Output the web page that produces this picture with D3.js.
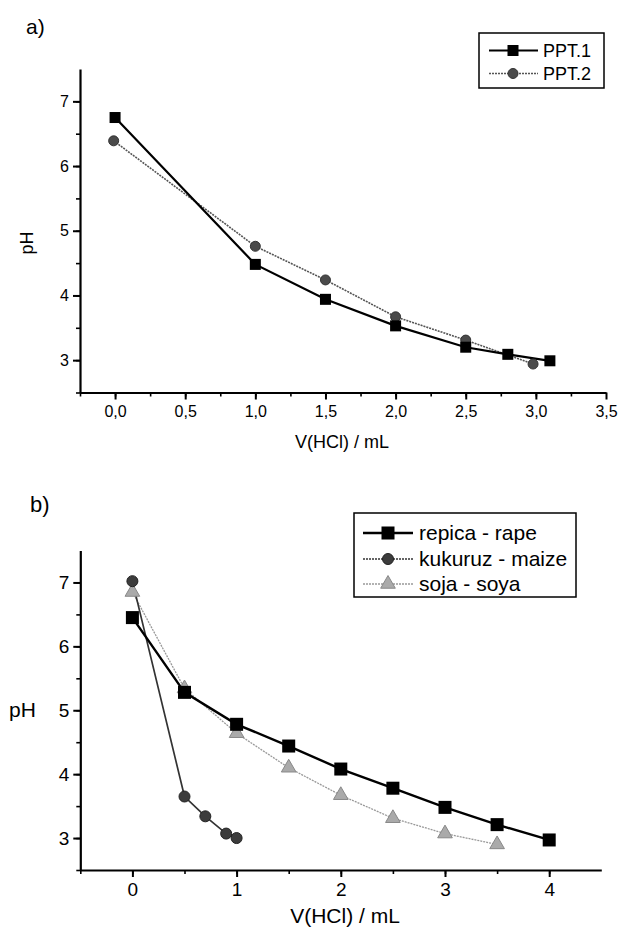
<!DOCTYPE html>
<html>
<head>
<meta charset="utf-8">
<script src="https://d3js.org/d3.v7.min.js"></script>
<style>
  body { margin: 0; background: #fff; }
  svg { display: block; font-family: Arial, "Liberation Sans", Helvetica, sans-serif; }
  .axis path, .axis line { stroke: #000; }
</style>
</head>
<body>
<svg id="chart" width="618" height="928"></svg>
<script>
// panel a data
var volA1 = [0.0, 1.0, 1.5, 2.0, 2.5, 2.8, 3.1];
var ppt1 = [6.75, 4.48, 3.94, 3.53, 3.2, 3.09, 2.99];
var volA2 = [-0.01, 1.0, 1.5, 2.0, 2.5, 2.98];
var ppt2 = [6.39, 4.76, 4.24, 3.67, 3.31, 2.94];
var ticksA_x = [0, 0.5, 1, 1.5, 2, 2.5, 3, 3.5];
var ticksA_y = [3, 4, 5, 6, 7];

// panel b data
var volRape = [0, 0.5, 1, 1.5, 2, 2.5, 3, 3.5, 4];
var rape = [6.45, 5.28, 4.78, 4.44, 4.08, 3.78, 3.48, 3.21, 2.97];
var volMaize = [0, 0.5, 0.7, 0.9, 1.0];
var maize = [7.02, 3.65, 3.34, 3.07, 3.0];
var volSoya = [0, 0.5, 1, 1.5, 2, 2.5, 3, 3.5];
var soya = [6.85, 5.34, 4.64, 4.1, 3.67, 3.31, 3.07, 2.9];
var ticksB_x = [0, 1, 2, 3, 4];
var ticksB_y = [3, 4, 5, 6, 7];

var svg = d3.select("#chart");

function zip(xs, ys) { return xs.map(function(v, i) { return [v, ys[i]]; }); }

// draws the two axes with major + minor ticks
function drawAxes(x, y, xTicks, xMinor, yTicks, yMinor, fmt, fsize) {
  var x0 = x.range()[0], y0 = y.range()[0];
  var g = svg.append("g");
  g.append("g").attr("class", "axis").attr("transform", "translate(0," + y0 + ")")
    .call(d3.axisBottom(x).tickValues(xMinor).tickSize(4).tickFormat("").tickSizeOuter(0))
    .call(function(s) { s.select(".domain").remove(); s.selectAll("line").attr("stroke-width", 1.6); });
  g.append("g").attr("class", "axis").attr("transform", "translate(0," + y0 + ")")
    .call(d3.axisBottom(x).tickValues(xTicks).tickSize(7).tickPadding(6).tickFormat(fmt).tickSizeOuter(0))
    .call(function(s) {
      s.select(".domain").attr("stroke-width", 2.2);
      s.selectAll("line").attr("stroke-width", 2);
      s.selectAll("text").attr("font-size", fsize).attr("fill", "#000");
    });
  g.append("g").attr("class", "axis").attr("transform", "translate(" + x0 + ",0)")
    .call(d3.axisLeft(y).tickValues(yMinor).tickSize(4).tickFormat("").tickSizeOuter(0))
    .call(function(s) { s.select(".domain").remove(); s.selectAll("line").attr("stroke-width", 1.6); });
  g.append("g").attr("class", "axis").attr("transform", "translate(" + x0 + ",0)")
    .call(d3.axisLeft(y).tickValues(yTicks).tickSize(7).tickPadding(4).tickFormat(d3.format("d")).tickSizeOuter(0))
    .call(function(s) {
      s.select(".domain").attr("stroke-width", 2.2);
      s.selectAll("line").attr("stroke-width", 2);
      s.selectAll("text").attr("font-size", fsize).attr("fill", "#000");
    });
}

function drawLine(x, y, pts, color, width, dash) {
  svg.append("path")
    .datum(pts)
    .attr("fill", "none")
    .attr("stroke", color)
    .attr("stroke-width", width)
    .attr("stroke-dasharray", dash)
    .attr("d", d3.line().x(function(d) { return x(d[0]); }).y(function(d) { return y(d[1]); }));
}

function marker(g, type, cx, cy, size, fill, stroke) {
  if (type == "square") {
    g.append("rect").attr("x", cx - size / 2).attr("y", cy - size / 2)
      .attr("width", size).attr("height", size).attr("fill", fill);
  } else if (type == "circle") {
    g.append("circle").attr("cx", cx).attr("cy", cy).attr("r", size / 2)
      .attr("fill", fill).attr("stroke", stroke).attr("stroke-width", 1);
  } else {
    g.append("path").attr("transform", "translate(" + cx + "," + cy + ")")
      .attr("d", d3.symbol().type(d3.symbolTriangle).size(size * size * 0.55)())
      .attr("fill", fill).attr("stroke", stroke).attr("stroke-width", 1);
  }
}

function drawMarkers(x, y, pts, type, size, fill, stroke) {
  var g = svg.append("g");
  pts.forEach(function(d) { marker(g, type, x(d[0]), y(d[1]), size, fill, stroke); });
}

// ---------- panel a ----------
var xA = d3.scaleLinear().domain([-0.25, 3.5]).range([80, 606]);
var yA = d3.scaleLinear().domain([2.5, 7.5]).range([392.5, 69]);
var commaFmt = function(d) { return d3.format(".1f")(d).replace(".", ","); };

drawAxes(xA, yA, ticksA_x, d3.range(-0.25, 3.5, 0.25), ticksA_y, d3.range(2.5, 7.5, 0.5), commaFmt, 16);

drawLine(xA, yA, zip(volA2, ppt2), "#555", 1.6, "2,1");
drawLine(xA, yA, zip(volA1, ppt1), "#000", 2.2, null);
drawMarkers(xA, yA, zip(volA2, ppt2), "circle", 10, "#4a4a4a", "#333");
drawMarkers(xA, yA, zip(volA1, ppt1), "square", 11, "#000", null);

svg.append("text").attr("x", 26).attr("y", 34).attr("font-size", 21).text("a)");
svg.append("text").attr("x", 342).attr("y", 448).attr("text-anchor", "middle")
  .attr("font-size", 18).text("V(HCl) / mL");
svg.append("text").attr("transform", "translate(33,243) rotate(-90)")
  .attr("text-anchor", "middle").attr("font-size", 18).text("pH");

// legend a
var legA = svg.append("g");
legA.append("rect").attr("x", 479).attr("y", 33).attr("width", 125).attr("height", 55)
  .attr("fill", "#fff").attr("stroke", "#000").attr("stroke-width", 1.5);
[["PPT.1", "square", "#000", 2.2, null, 50.5, "#000"],
 ["PPT.2", "circle", "#555", 1.6, "2,1", 73.5, "#4a4a4a"]].forEach(function(e) {
  legA.append("line").attr("x1", 489).attr("x2", 538).attr("y1", e[5]).attr("y2", e[5])
    .attr("stroke", e[2]).attr("stroke-width", e[3]).attr("stroke-dasharray", e[4]);
  marker(legA, e[1], 513, e[5], e[1] == "square" ? 11 : 10, e[6], "#333");
  legA.append("text").attr("x", 543).attr("y", e[5] + 6.5).attr("font-size", 18).text(e[0]);
});

// ---------- panel b ----------
var xB = d3.scaleLinear().domain([-0.5, 4.5]).range([80.3, 601.3]);
var yB = d3.scaleLinear().domain([2.5, 7.5]).range([870, 550.5]);

drawAxes(xB, yB, ticksB_x, d3.range(-0.5, 4.5, 0.5), ticksB_y, d3.range(2.5, 7.5, 0.5), d3.format("d"), 19);

drawLine(xB, yB, zip(volSoya, soya), "#999", 1.3, "2,1");
drawLine(xB, yB, zip(volMaize, maize), "#333", 1.7, null);
drawLine(xB, yB, zip(volRape, rape), "#000", 2.4, null);
drawMarkers(xB, yB, zip(volSoya, soya), "triangle", 13, "#aaa", "#888");
drawMarkers(xB, yB, zip(volMaize, maize), "circle", 11, "#3c3c3c", "#222");
drawMarkers(xB, yB, zip(volRape, rape), "square", 13, "#000", null);

svg.append("text").attr("x", 30).attr("y", 512).attr("font-size", 22).text("b)");
svg.append("text").attr("x", 345).attr("y", 923).attr("text-anchor", "middle")
  .attr("font-size", 21).text("V(HCl) / mL");
svg.append("text").attr("x", 9).attr("y", 717).attr("font-size", 21).text("pH");

// legend b
var legB = svg.append("g");
legB.append("rect").attr("x", 354).attr("y", 513).attr("width", 222).attr("height", 84)
  .attr("fill", "#fff").attr("stroke", "#000").attr("stroke-width", 1.5);
[["repica - rape", "square", "#000", 2.4, null, 533, "#000", "#000", 13],
 ["kukuruz - maize", "circle", "#333", 1.7, "2,1", 559, "#3c3c3c", "#222", 11],
 ["soja - soya", "triangle", "#999", 1.3, "2,1", 584, "#aaa", "#888", 13]].forEach(function(e) {
  legB.append("line").attr("x1", 363).attr("x2", 413).attr("y1", e[5]).attr("y2", e[5])
    .attr("stroke", e[2]).attr("stroke-width", e[3]).attr("stroke-dasharray", e[4]);
  marker(legB, e[1], 388, e[5], e[8], e[6], e[7]);
  legB.append("text").attr("x", 419).attr("y", e[5] + 7).attr("font-size", 21).text(e[0]);
});
</script>
</body>
</html>
